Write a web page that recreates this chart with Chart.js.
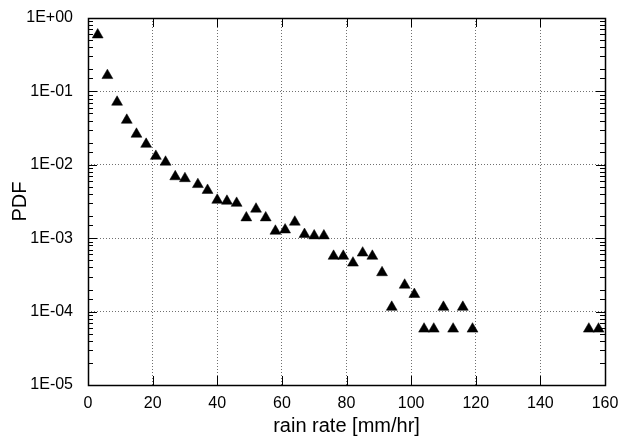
<!DOCTYPE html>
<html>
<head>
<meta charset="utf-8">
<script src="https://cdn.jsdelivr.net/npm/chart.js@4"></script>
<style>
  html, body { margin: 0; padding: 0; background: #fff; }
  #wrap { width: 626px; height: 445px; }
</style>
</head>
<body>
<div id="wrap"><canvas id="pdfChart" width="626" height="445"></canvas></div>
<script>
// rain rate bins [mm/hr] and PDF values
const rainRate = [3, 6, 9, 12, 15, 18, 21, 24, 27, 30,
                  34, 37, 40, 43, 46, 49, 52, 55, 58, 61,
                  64, 67, 70, 73, 76, 79, 82, 85, 88, 91,
                  94, 98, 101, 104, 107, 110, 113, 116, 119, 155, 158];
const pdf = [0.59, 0.165, 0.0715, 0.0406, 0.0262, 0.0191, 0.0131, 0.0109, 0.0069, 0.0065,
             0.0054, 0.0045, 0.0033, 0.0032, 0.0030, 0.0019, 0.0025, 0.0019, 0.00125, 0.0013,
             0.00166, 0.00113, 0.00108, 0.00108, 0.00057, 0.00057, 0.00046, 0.00063, 0.00057, 0.00034,
             0.000115, 0.00023, 0.000172, 0.000058, 0.000058, 0.000115, 0.000058, 0.000115, 0.000058, 0.000058, 0.000058];
const xTicks = [0, 20, 40, 60, 80, 100, 120, 140, 160];

const points = rainRate.map((r, i) => ({ x: r, y: pdf[i] }));

function isDecade(v) {
    const l = Math.log10(v);
    return Math.abs(l - Math.round(l)) < 1e-6;
}

function fmtE(v) {
    const e = Math.round(Math.log10(v));
    const s = e < 0 ? '-' : '+';
    return '1E' + s + String(Math.abs(e)).padStart(2, '0');
}

// frame + inner tick marks, gnuplot style
const framePlugin = {
    id: 'frame',
    afterDraw(chart) {
        const ctx = chart.ctx;
        const a = chart.chartArea;
        const xs = chart.scales.x, ys = chart.scales.y;
        ctx.save();
        ctx.strokeStyle = '#000';
        ctx.lineWidth = 1;
        ctx.beginPath();
        ys.ticks.forEach(t => {
            const y = Math.round(ys.getPixelForValue(t.value)) + 0.5;
            const len = isDecade(t.value) ? 9 : 5;
            ctx.moveTo(a.left, y); ctx.lineTo(a.left + len, y);
            ctx.moveTo(a.right, y); ctx.lineTo(a.right - len, y);
        });
        xTicks.forEach(v => {
            const x = Math.round(xs.getPixelForValue(v)) + 0.5;
            ctx.moveTo(x, a.bottom); ctx.lineTo(x, a.bottom - 9);
            ctx.moveTo(x, a.top); ctx.lineTo(x, a.top + 9);
        });
        ctx.stroke();
        ctx.lineWidth = 1.5;
        ctx.strokeRect(Math.round(a.left) + 0.5, Math.round(a.top) + 0.5,
                       Math.round(a.right - a.left), Math.round(a.bottom - a.top));
        ctx.restore();
    }
};

const ctx = document.getElementById('pdfChart').getContext('2d');
const pdfChart = new Chart(ctx, {
    type: 'scatter',
    data: {
        datasets: [{
            label: 'PDF',
            data: points,
            pointStyle: 'triangle',
            pointRadius: 6.3,
            pointBackgroundColor: '#000',
            pointBorderColor: '#000',
            pointBorderWidth: 0.5,
            showLine: false
        }]
    },
    options: {
        responsive: false,
        animation: false,
        layout: { padding: { left: 0, top: 18, right: 21, bottom: 0 } },
        plugins: {
            legend: { display: false },
            tooltip: { enabled: false }
        },
        scales: {
            x: {
                type: 'linear',
                min: 0,
                max: 160,
                afterBuildTicks: scale => { scale.ticks = xTicks.map(v => ({ value: v })); },
                afterFit: scale => {
                    scale.height = 60;
                    scale.paddingLeft = 0;
                    scale.paddingRight = 0;
                },
                ticks: {
                    color: '#000',
                    padding: 9,
                    maxRotation: 0,
                    font: { family: 'Liberation Sans, Arial, sans-serif', size: 16 }
                },
                grid: {
                    color: '#707070',
                    lineWidth: 1,
                    drawTicks: false
                },
                border: { display: false, dash: [1, 2] },
                title: {
                    display: true,
                    text: 'rain rate [mm/hr]',
                    color: '#000',
                    padding: { top: 0, bottom: 7 },
                    font: { family: 'Liberation Sans, Arial, sans-serif', size: 20 }
                }
            },
            y: {
                type: 'logarithmic',
                min: 1e-5,
                max: 1,
                afterFit: scale => {
                    scale.width = 88;
                    scale.paddingTop = 0;
                    scale.paddingBottom = 0;
                },
                ticks: {
                    color: '#000',
                    padding: 15,
                    autoSkip: false,
                    font: { family: 'Liberation Sans, Arial, sans-serif', size: 16 },
                    callback: v => isDecade(v) ? fmtE(v) : ''
                },
                grid: {
                    color: c => (c.tick && isDecade(c.tick.value)) ? '#707070' : 'rgba(0,0,0,0)',
                    lineWidth: 1,
                    drawTicks: false
                },
                border: { display: false, dash: [1, 2] },
                title: {
                    display: true,
                    text: 'PDF',
                    color: '#000',
                    padding: { top: 8, bottom: 0 },
                    font: { family: 'Liberation Sans, Arial, sans-serif', size: 20 }
                }
            }
        }
    },
    plugins: [framePlugin]
});
</script>
</body>
</html>
